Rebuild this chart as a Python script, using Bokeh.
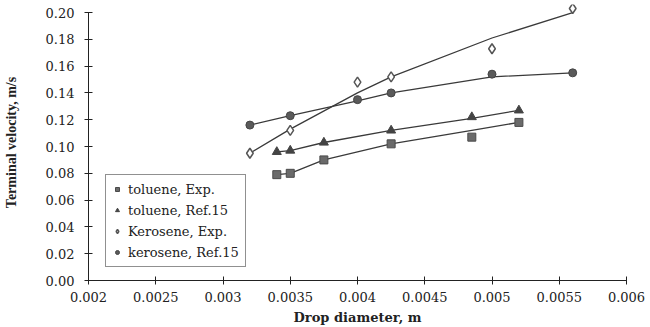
from bokeh.plotting import figure
from bokeh.models import Range1d, FixedTicker, Legend, LegendItem, PrintfTickFormatter
from bokeh.embed import file_html
from bokeh.resources import INLINE

# ---- data ----
tol_x = [0.0034, 0.0035, 0.00375, 0.00425, 0.00485, 0.0052]
tol_exp = [0.079, 0.080, 0.090, 0.102, 0.107, 0.118]
tol_exp_curve = [0.079, 0.080, 0.090, 0.102, 0.112, 0.118]
tol_ref = [0.096, 0.097, 0.103, 0.112, 0.122, 0.127]
tol_ref_curve = [0.096, 0.097, 0.103, 0.112, 0.121, 0.127]

ker_x = [0.0032, 0.0035, 0.004, 0.00425, 0.005, 0.0056]
ker_exp = [0.095, 0.112, 0.148, 0.152, 0.173, 0.203]
ker_exp_curve = [0.095, 0.113, 0.140, 0.152, 0.181, 0.200]
ker_ref = [0.116, 0.123, 0.135, 0.140, 0.154, 0.155]
ker_ref_curve = [0.116, 0.123, 0.134, 0.140, 0.152, 0.155]

x_ticks = [0.002, 0.0025, 0.003, 0.0035, 0.004, 0.0045, 0.005, 0.0055, 0.006]
y_ticks = [0.00, 0.02, 0.04, 0.06, 0.08, 0.10, 0.12, 0.14, 0.16, 0.18, 0.20]
labels = ["toluene, Exp.", "toluene, Ref.15", "Kerosene, Exp.", "kerosene, Ref.15"]

# y range extends a little above 0.20 so the top marker is not clipped; axis stops at 0.20
p = figure(width=650, height=327, x_range=Range1d(0.002, 0.006), y_range=Range1d(0, 0.206),
           output_backend="svg", toolbar_location=None,
           min_border_left=88, min_border_right=24, min_border_top=4, min_border_bottom=45)
p.xgrid.visible = False
p.ygrid.visible = False
p.outline_line_color = None
p.background_fill_color = "white"

lc = "#3a3a3a"
p.line(tol_x, tol_exp_curve, line_color=lc, line_width=1.3)
p.line(tol_x, tol_ref_curve, line_color=lc, line_width=1.3)
p.line(ker_x, ker_exp_curve, line_color=lc, line_width=1.3)
p.line(ker_x, ker_ref_curve, line_color=lc, line_width=1.3)

r1 = p.scatter(tol_x, tol_exp, marker="square", size=8, fill_color="#6a6a6a", line_color="#4a4a4a")
r2 = p.scatter(tol_x, tol_ref, marker="triangle", size=9, fill_color="#444444", line_color="#444444")
r3 = p.scatter(ker_x, ker_exp, marker="diamond", size=10, fill_color="white", line_color="#555555", line_width=1.5)
r4 = p.scatter(ker_x, ker_ref, marker="circle", size=8, fill_color="#5a5a5a", line_color="#444444")

tick_font = "DejaVu Serif"
for ax in (p.xaxis[0], p.yaxis[0]):
    ax.major_tick_in = 4
    ax.major_tick_out = 4
    ax.minor_tick_line_color = None
    ax.axis_line_color = "#222222"
    ax.major_tick_line_color = "#222222"
    ax.major_label_text_font = tick_font
    ax.major_label_text_font_size = "13px"
    ax.major_label_text_color = "#222222"
    ax.axis_label_text_font_style = "bold"
    ax.axis_label_text_color = "#222222"

p.xaxis.ticker = FixedTicker(ticks=x_ticks)
p.xaxis.formatter = PrintfTickFormatter(format="%g")
p.xaxis.major_label_standoff = 7
p.xaxis.axis_label = "Drop diameter, m"
p.xaxis.axis_label_text_font = "DejaVu Serif"
p.xaxis.axis_label_text_font_size = "13px"
p.xaxis.axis_label_standoff = 5

p.yaxis.ticker = FixedTicker(ticks=y_ticks)
p.yaxis.bounds = (0, 0.2)
p.yaxis.formatter = PrintfTickFormatter(format="%.2f")
p.yaxis.major_label_standoff = 10
p.yaxis.axis_label = "Terminal velocity, m/s"
p.yaxis.axis_label_text_font = "Liberation Serif"
p.yaxis.axis_label_text_font_size = "14px"
p.yaxis.axis_label_standoff = 24

legend = Legend(items=[LegendItem(label=labels[0], renderers=[r1]),
                       LegendItem(label=labels[1], renderers=[r2]),
                       LegendItem(label=labels[2], renderers=[r3]),
                       LegendItem(label=labels[3], renderers=[r4])],
                location=(17, 13))
legend.border_line_color = "#222222"
legend.border_line_width = 1
legend.background_fill_alpha = 1
legend.label_text_font = "DejaVu Serif"
legend.label_text_font_size = "13px"
legend.label_text_color = "#222222"
legend.padding = 6
legend.spacing = 5
legend.label_height = 16
legend.glyph_height = 16
legend.glyph_width = 10
legend.label_standoff = 6
legend.margin = 0
p.add_layout(legend, "center")

open("out.html", "w").write(file_html(p, INLINE))
